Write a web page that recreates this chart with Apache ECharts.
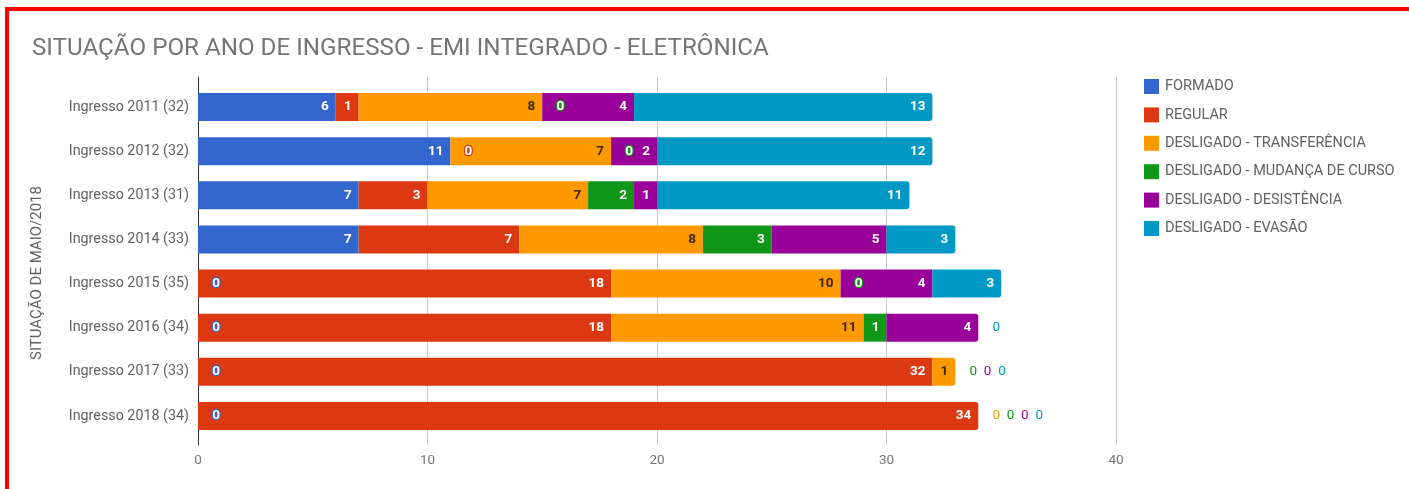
<!DOCTYPE html>
<html>
<head>
<meta charset="utf-8">
<title>Situação por ano de ingresso</title>
<script src="https://cdn.jsdelivr.net/npm/echarts@6/dist/echarts.min.js"></script>
<style>
  html, body { margin: 0; padding: 0; background: #fff; overflow: hidden; }
  #chart { position: absolute; left: 0; top: 0; width: 1409px; height: 489px; }
  .frame {
    position: absolute; left: 5px; top: 7px; width: 2000px; height: 1000px;
    border-top: 4px solid #ff0000; border-left: 4px solid #ff0000;
    pointer-events: none;
  }
</style>
</head>
<body>
<div id="chart"></div>
<div class="frame"></div>
<script>
const categories = [
  'Ingresso 2011 (32)', 'Ingresso 2012 (32)', 'Ingresso 2013 (31)', 'Ingresso 2014 (33)',
  'Ingresso 2015 (35)', 'Ingresso 2016 (34)', 'Ingresso 2017 (33)', 'Ingresso 2018 (34)'
];
const formado       = [6, 11, 7, 7, 0, 0, 0, 0];
const regular       = [1, 0, 3, 7, 18, 18, 32, 34];
const transferencia = [8, 7, 7, 8, 10, 11, 1, 0];
const mudancaCurso  = [0, 0, 2, 3, 0, 1, 0, 0];
const desistencia   = [4, 2, 1, 5, 4, 4, 0, 0];
const evasao        = [13, 12, 11, 3, 3, 0, 0, 0];
const xTicks = [0, 10, 20, 30, 40];

const seriesDefs = [
  { name: 'FORMADO', data: formado, color: '#3366cc', text: '#fff' },
  { name: 'REGULAR', data: regular, color: '#dc3912', text: '#fff' },
  { name: 'DESLIGADO - TRANSFERÊNCIA', data: transferencia, color: '#ff9900', text: '#3d2700' },
  { name: 'DESLIGADO - MUDANÇA DE CURSO', data: mudancaCurso, color: '#109618', text: '#fff' },
  { name: 'DESLIGADO - DESISTÊNCIA', data: desistencia, color: '#990099', text: '#fff' },
  { name: 'DESLIGADO - EVASÃO', data: evasao, color: '#0099c6', text: '#fff' }
];

const font = 'Roboto, "Noto Sans", sans-serif';

// zero values: inside the bar get an outlined label, after the bar end they line up in colour
const buildData = (si) => {
  const def = seriesDefs[si];
  return def.data.map((v, row) => {
    const rest = seriesDefs.slice(si + 1).map(d => d.data[row]);
    if (v > 0) {
      const lastNonZero = rest.every(x => x === 0);
      return {
        value: v,
        itemStyle: lastNonZero ? { borderRadius: [0, 3, 3, 0] } : {}
      };
    }
    const trailing = rest.every(x => x === 0);
    if (!trailing) {
      return {
        value: 0,
        label: {
          position: 'inside', offset: [18, 0], color: '#fff',
          textBorderColor: def.color, textBorderWidth: 2.5
        }
      };
    }
    const before = seriesDefs.slice(0, si).map(d => d.data[row]);
    const k = si - before.map(x => x > 0).lastIndexOf(true) - 1;
    return {
      value: 0,
      label: {
        position: 'inside', offset: [18 + 14.3 * k, 0], color: def.color,
        fontWeight: 'normal'
      }
    };
  });
};

const chart = echarts.init(document.getElementById('chart'));

chart.setOption({
  animation: false,
  textStyle: { fontFamily: font },
  title: {
    text: 'SITUAÇÃO POR ANO DE INGRESSO - EMI INTEGRADO - ELETRÔNICA',
    left: 27, top: 32,
    textStyle: { fontSize: 24.2, fontWeight: 'normal', color: '#757575', fontFamily: font }
  },
  legend: {
    orient: 'vertical', left: 1139, top: 74,
    icon: 'rect', itemWidth: 15, itemHeight: 15, itemGap: 13.4,
    textStyle: { fontSize: 14.5, color: '#616161', fontFamily: font, padding: [0, 0, 0, 1] },
    data: seriesDefs.map(d => d.name)
  },
  graphic: [{
    type: 'text', x: 37, y: 273, rotation: Math.PI / 2,
    style: {
      text: 'SITUAÇÃO DE MAIO/2018', fill: '#616161', font: '15px ' + font,
      align: 'center', verticalAlign: 'middle'
    }
  }],
  grid: [
    { left: 198, right: 293, top: 77, bottom: 44 },
    { left: 198, right: 293, top: 85, bottom: 51 }
  ],
  xAxis: [
    {
      gridIndex: 0, type: 'value', min: xTicks[0], max: xTicks[xTicks.length - 1], interval: 10,
      axisLine: { show: false }, axisTick: { show: false },
      axisLabel: { color: '#757575', fontSize: 13.5, margin: 9 },
      splitLine: { lineStyle: { color: '#cccccc' } }
    },
    {
      gridIndex: 1, type: 'value', min: xTicks[0], max: xTicks[xTicks.length - 1], interval: 10,
      show: false
    }
  ],
  yAxis: [
    {
      gridIndex: 0, type: 'value', min: 0, max: 1,
      axisLine: { show: true, lineStyle: { color: '#333333' } },
      axisTick: { show: false }, axisLabel: { show: false }, splitLine: { show: false }
    },
    {
      gridIndex: 1, type: 'category', data: categories, inverse: true,
      axisLine: { show: false }, axisTick: { show: false },
      axisLabel: { color: '#616161', fontSize: 14.3, margin: 9 }
    }
  ],
  series: seriesDefs.map((d, si) => ({
    name: d.name,
    type: 'bar',
    stack: 'total',
    xAxisIndex: 1,
    yAxisIndex: 1,
    barWidth: 28,
    itemStyle: { color: d.color },
    label: {
      show: true, position: 'insideRight', distance: 7,
      color: d.text, fontSize: 13.5, fontWeight: 'bold', fontFamily: font
    },
    data: buildData(si)
  }))
});
</script>
</body>
</html>
